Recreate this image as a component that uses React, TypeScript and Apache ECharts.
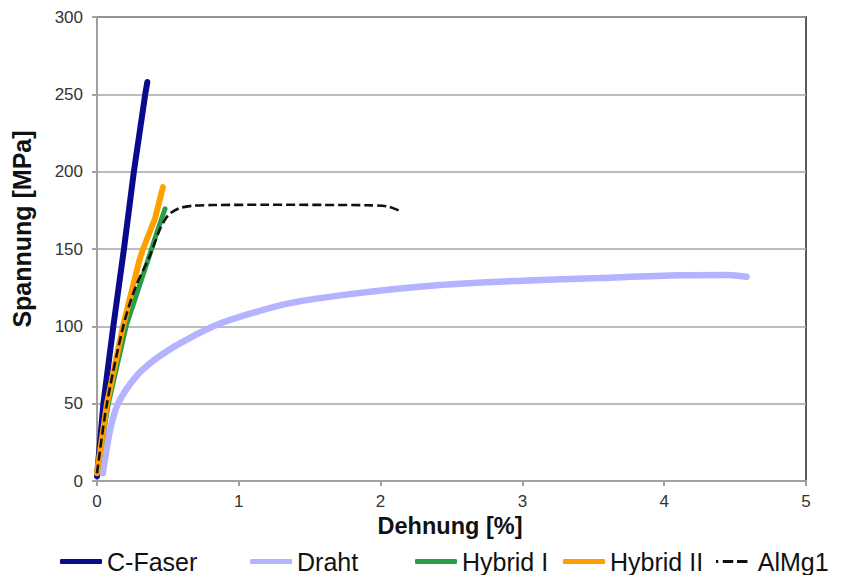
import React, { useEffect, useRef } from "react";
import * as echarts from "echarts";

const seriesNames = ["C-Faser", "Draht", "Hybrid I", "Hybrid II", "AlMg1"];

const cFaserStrain = [0, 0.045, 0.115, 0.19, 0.26, 0.34, 0.355];
const cFaserStress = [3, 50, 100, 150, 200, 250, 258];

const drahtStrain = [0.04, 0.063, 0.097, 0.148, 0.27, 0.4, 0.585, 0.82, 1.0, 1.36, 1.8, 2.42, 3.0, 3.55, 4.11, 4.45, 4.58];
const drahtStress = [5, 18, 35, 50, 67, 78, 89, 100, 106, 115, 121, 126.7, 129.5, 131.3, 133, 133.2, 132];

const hybrid1Strain = [0, 0.08, 0.205, 0.36, 0.42, 0.48];
const hybrid1Stress = [5, 50, 100, 143, 160, 176];

const hybrid2Strain = [0, 0.07, 0.183, 0.3, 0.325, 0.41, 0.465];
const hybrid2Stress = [5, 50, 100, 143, 150, 170, 190];

const alMgStrain = [0, 0.07, 0.185, 0.27, 0.37, 0.44, 0.48, 0.515, 0.585, 0.68, 0.82, 1.2, 1.6, 1.9, 2.05, 2.15];
const alMgStress = [5, 50, 100, 125, 145, 162, 169, 173, 176.5, 178, 178.4, 178.6, 178.5, 178.3, 177.5, 174];

const xTicks = { min: 0, max: 5, interval: 1 };
const yTicks = { min: 0, max: 300, interval: 50 };

const zip = (xs: number[], ys: number[]) => xs.map((x, i) => [x, ys[i]]);

export default function App() {
  const ref = useRef<HTMLDivElement>(null);
  useEffect(() => {
    if (!ref.current) return;
    const chart = echarts.init(ref.current, null, { renderer: "svg" });
    const font = "'Liberation Sans', Arial, sans-serif";
    const colors = ["#0a0a8c", "#b3b3ff", "#2a9d48", "#ffa000", "#111111"];
    const widths = [6, 6.5, 5, 6, 2.6];
    const legendLeft = [60, 250, 415, 563, 716];
    const dashIcon = "path://M0,0h3v4h-3z M9,0h14v4h-14z M28,0h14v4h-14z";
    const datasets = [
      zip(cFaserStrain, cFaserStress),
      zip(drahtStrain, drahtStress),
      zip(hybrid1Strain, hybrid1Stress),
      zip(hybrid2Strain, hybrid2Stress),
      zip(alMgStrain, alMgStress),
    ];
    chart.setOption({
      animation: false,
      textStyle: { fontFamily: font },
      grid: {
        left: 97,
        right: 47,
        top: 17,
        bottom: 94,
        show: true,
        borderColor: "#5a5a5a",
        borderWidth: 2,
      },
      xAxis: {
        type: "value",
        min: xTicks.min,
        max: xTicks.max,
        interval: xTicks.interval,
        axisLine: { show: true, lineStyle: { color: "#a0a0a0", width: 2 } },
        axisTick: { show: true, length: 5, lineStyle: { color: "#a0a0a0", width: 2 } },
        splitLine: { show: false },
        axisLabel: { color: "#333", fontSize: 17, margin: 12, fontFamily: font },
      },
      yAxis: {
        type: "value",
        min: yTicks.min,
        max: yTicks.max,
        interval: yTicks.interval,
        axisLine: { show: true, lineStyle: { color: "#a0a0a0", width: 2 } },
        axisTick: { show: true, length: 5, lineStyle: { color: "#a0a0a0", width: 2 } },
        splitLine: { show: true, lineStyle: { color: "#a6a6a6", width: 1.5 } },
        axisLabel: { color: "#333", fontSize: 17, margin: 14, fontFamily: font },
      },
      legend: seriesNames.map((n, i) => ({
        data: [{ name: n, icon: i === 4 ? dashIcon : "roundRect" }],
        left: legendLeft[i],
        top: 549,
        itemWidth: 42,
        itemHeight: i === 4 ? 3 : 5,
        itemGap: 5,
        padding: 0,
        textStyle: { fontSize: 25, lineHeight: 25, color: "#111", fontFamily: font, padding: [0, 0, 0, 0] },
      })),
      graphic: [
        {
          type: "text",
          x: 22,
          y: 229,
          rotation: Math.PI / 2,
          style: {
            text: "Spannung [MPa]",
            font: `bold 25px ${font}`,
            fill: "#111",
            align: "center",
            verticalAlign: "middle",
          },
        },
        {
          type: "text",
          x: 450,
          y: 526,
          style: {
            text: "Dehnung [%]",
            font: `bold 23.5px ${font}`,
            fill: "#111",
            align: "center",
            verticalAlign: "middle",
          },
        },
      ],
      series: seriesNames.map((n, i) => ({
        name: n,
        type: "line",
        data: datasets[i],
        showSymbol: false,
        symbol: "none",
        smooth: i === 1 || i === 4 ? 0.3 : false,
        color: colors[i],
        itemStyle: { color: colors[i] },
        lineStyle: {
          color: colors[i],
          width: widths[i],
          type: i === 4 ? [9, 4] : "solid",
          cap: i === 4 ? "butt" : "round",
        },
        z: 2 + i,
      })),
    });
    return () => chart.dispose();
  }, []);
  return (
    <div
      ref={ref}
      style={{ position: "fixed", left: 0, top: 0, width: 853, height: 575, background: "#fff" }}
    />
  );
}
